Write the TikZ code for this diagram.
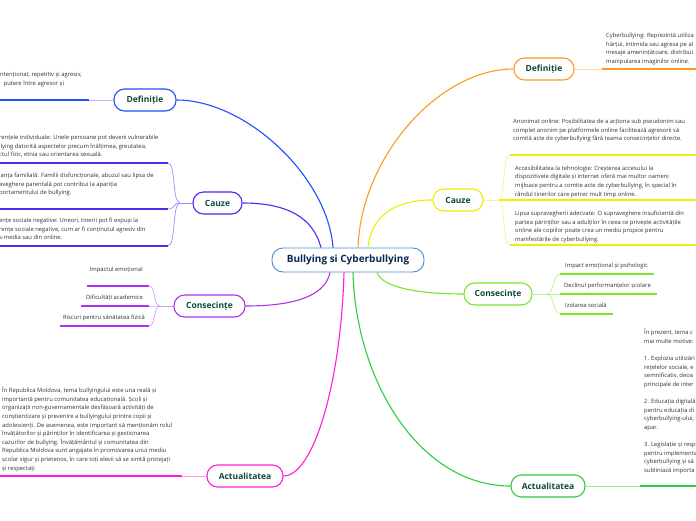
\documentclass[tikz,border=0pt]{standalone}
\usepackage{fontspec}
\setmainfont{Open Sans}
\definecolor{cblue}{HTML}{1F4FFF}
\definecolor{cblueL}{HTML}{A8BEFF}
\definecolor{cind}{HTML}{4B2BF0}
\definecolor{cindL}{HTML}{9D8CFF}
\definecolor{cvio}{HTML}{AA33F0}
\definecolor{cvioL}{HTML}{D49BFF}
\definecolor{cmag}{HTML}{FF1ED8}
\definecolor{cmagL}{HTML}{FF9BEE}
\definecolor{corg}{HTML}{FF9A1F}
\definecolor{corgL}{HTML}{FFD9A8}
\definecolor{cyel}{HTML}{EEEE00}
\definecolor{cyelL}{HTML}{F4F48A}
\definecolor{clim}{HTML}{77E62A}
\definecolor{climL}{HTML}{B5F58A}
\definecolor{cgrn}{HTML}{2ECC40}
\definecolor{cgrnL}{HTML}{9BE8A5}
\definecolor{ctxt}{HTML}{0D4A38}
\definecolor{cnavy}{HTML}{0B2752}
\definecolor{cctr}{HTML}{4A8BD0}
\definecolor{cbody}{HTML}{333333}
\begin{document}
\begin{tikzpicture}[x=1pt,y=-1pt,
  central/.style={draw=cctr, line width=0.9pt, rounded corners=11pt, fill=white,
    minimum width=152pt, minimum height=24pt, inner sep=0pt,
    font=\fontsize{10}{12}\selectfont\bfseries, text=cnavy},
  branch/.style={line width=1.1pt, rounded corners=10.5pt, fill=white,
    minimum height=22pt, inner sep=0pt,
    font=\fontsize{8.5}{10}\selectfont\bfseries, text=ctxt},
  body/.style={font=\fontsize{5.85}{8.6}\selectfont, text=cbody, align=left,
    inner sep=0pt, anchor=north west},
  lbl/.style={font=\fontsize{5.85}{8.6}\selectfont, text=cbody, inner sep=0pt},
  uline/.style={line width=2.2pt},
  thinc/.style={line width=0.7pt},
  conn/.style={line width=1.1pt}]
\useasboundingbox (0,0) rectangle (696,520);
\clip (0,0) rectangle (696,520);
\fill[white] (0,0) rectangle (696,520);

% central and branch nodes
\node[central] (C) at (348,260) {Bullying si Cyberbullying};
\node[branch, draw=cblue, minimum width=62pt] (defL) at (145,100) {Definiție};
\node[branch, draw=cind, minimum width=49pt] (cauL) at (217.5,203) {Cauze};
\node[branch, draw=cvio, minimum width=71pt] (conL) at (209.5,306) {Consecințe};
\node[branch, draw=cmag, minimum width=76pt] (actL) at (245,476) {Actualitatea};
\node[branch, draw=corg, minimum width=60pt] (defR) at (544,69) {Definiție};
\node[branch, draw=cyel, minimum width=50pt] (cauR) at (458,200) {Cauze};
\node[branch, draw=clim, minimum width=68pt] (conR) at (498,294) {Consecințe};
\node[branch, draw=cgrn, minimum width=74pt] (actR) at (548,486) {Actualitatea};

% main connectors
\draw[conn, cblue] (defL.east) .. controls +(70,0) and +(-5,-70) .. ([xshift=-15pt]C.north);
\draw[conn, cind] (cauL.east) .. controls +(45,0) and +(-8,-30) .. ([xshift=-27pt]C.north);
\draw[conn, cvio] (conL.east) .. controls +(45,0) and +(-5,25) .. ([xshift=-18pt]C.south);
\draw[conn, cmag] (actL.east) .. controls +(30,0) and +(-3,110) .. ([xshift=-4pt]C.south);
\draw[conn, corg] (defR.west) .. controls +(-75,0) and +(3,-90) .. ([xshift=10pt]C.north);
\draw[conn, cyel] (cauR.west) .. controls +(-40,0) and +(3,-30) .. ([xshift=20pt]C.north);
\draw[conn, clim] (conR.west) .. controls +(-45,0) and +(5,15) .. ([xshift=29pt]C.south);
\draw[conn, cgrn] (actR.west) .. controls +(-90,0) and +(3,110) .. ([xshift=5pt]C.south);

% ---- left Definitie
\coordinate (uDL0) at (0,100);
\coordinate (uDL1) at (89,100);
\draw[thinc, cblueL] (defL.west) -- (uDL1);
\draw[uline, cblue] (uDL0) -- (uDL1);
\node[body] (tDL) at (0,70.5) {\strut ntenționat, repetitiv și agresiv,\\\hspace*{3.5pt}putere între agresor și};

% ---- left Cauze
\coordinate (jCL) at (180,203);
\draw[thinc, cindL] (cauL.west) -- (jCL);
\foreach \i/\yy in {1/163,2/209,3/246}{
  \coordinate (uCL\i a) at (0,\yy);
  \coordinate (uCL\i b) at (168,\yy);
  \draw[thinc, cindL] (jCL) .. controls +(-8,0) and +(8,0) .. (uCL\i b);
  \draw[uline, cind] (uCL\i a) -- (uCL\i b);
}
\node[body] (tCL1) at (-1,133.5) {\strut rențele individuale: Unele persoane pot deveni vulnerabile\\llying datorită aspectelor precum înălțimea, greutatea,\\ctul fizic, etnia sau orientarea sexuală.};
\node[body] (tCL2) at (-1,171.5) {\strut ianța familială: Familii disfuncționale, abuzul sau lipsa de\\aveghere parentală pot contribui la apariția\\portamentului de bullying.};
\node[body] (tCL3) at (-1,216.5) {\strut ențe sociale negative: Uneori, tinerii pot fi expuși la\\rențe sociale negative, cum ar fi conținutul agresiv din\\s-media sau din online.};

% ---- left Consecinte
\coordinate (jOL) at (160,306);
\draw[thinc, cvioL] (conL.west) -- (jOL);
\foreach \i/\xx/\yy in {1/87/286,2/81/306,3/60/326}{
  \coordinate (uOL\i a) at (\xx,\yy);
  \coordinate (uOL\i b) at (149,\yy);
  \draw[thinc, cvioL] (jOL) .. controls +(-7,0) and +(7,0) .. (uOL\i b);
  \draw[uline, cvio] (uOL\i a) -- (uOL\i b);
}
\node[lbl, anchor=base east] (tOL1) at (143,271.5) {Impactul emoțional};
\node[lbl, anchor=base east] (tOL2) at (143,299.5) {Dificultăți academice};
\node[lbl, anchor=base east] (tOL3) at (145,319.5) {Riscuri pentru sănătatea fizică};

% ---- left Actualitatea
\coordinate (uAL0) at (0,476);
\coordinate (uAL1) at (182,476);
\draw[thinc, cmagL] (actL.west) -- (uAL1);
\draw[uline, cmag] (uAL0) -- (uAL1);
\node[body] (tAL) at (2,386.5) {\strut În Republica Moldova, tema bullyingului este una reală și\\importantă pentru comunitatea educațională. Școli și\\organizații non-guvernamentale desfășoară activități de\\conștientizare și prevenire a bullyingului printre copii și\\adolescenți. De asemenea, este important să menționăm rolul\\învățătorilor și părinților în identificarea și gestionarea\\cazurilor de bullying. Învățământul și comunitatea din\\Republica Moldova sunt angajate în promovarea unui mediu\\școlar sigur și prietenos, în care toți elevii să se simtă protejați\\și respectați};

% ---- right Definitie
\coordinate (uDR0) at (602,69);
\coordinate (uDR1) at (696,69);
\draw[thinc, corgL] (defR.east) -- (uDR0);
\draw[uline, corg] (uDR0) -- (uDR1);
\node[body] (tDR) at (606,31.5) {\strut Cyberbullying: Reprezintă utiliza\\hărțui, intimida sau agresa pe al\\mesaje amenințătoare, distribui\\manipularea imaginilor online.};

% ---- right Cauze
\coordinate (jCR) at (498,200);
\draw[thinc, cyelL] (cauR.east) -- (jCR);
\foreach \i/\xx/\yy in {1/510/155,2/500/200,3/510/245}{
  \coordinate (uCR\i a) at (\xx,\yy);
  \coordinate (uCR\i b) at (696,\yy);
  \draw[thinc, cyelL] (jCR) .. controls +(8,0) and +(-8,0) .. (uCR\i a);
  \draw[uline, cyel] (uCR\i a) -- (uCR\i b);
}
\node[body] (tCR1) at (513,117.5) {\strut Anonimat online: Posibilitatea de a acționa sub pseudonim sau\\complet anonim pe platformele online facilitează agresorii să\\comită acte de cyberbullying fără teama consecințelor directe.};
\node[body] (tCR2) at (515,164) {\strut Accesibilitatea la tehnologie: Creșterea accesului la\\dispozitivele digitale și internet oferă mai multor oameni\\mijloace pentru a comite acte de cyberbullying, în special în\\rândul tinerilor care petrec mult timp online.};
\node[body] (tCR3) at (515,209.2) {\strut Lipsa supravegherii adecvate: O supraveghere insuficientă din\\partea părinților sau a adulților în ceea ce privește activitățile\\online ale copiilor poate crea un mediu propice pentru\\manifestările de cyberbullying.};

% ---- right Consecinte
\coordinate (jOR) at (547,294);
\draw[thinc, climL] (conR.east) -- (jOR);
\foreach \i/\xx/\yy in {1/654/274,2/657/294,3/613/314}{
  \coordinate (uOR\i a) at (560,\yy);
  \coordinate (uOR\i b) at (\xx,\yy);
  \draw[thinc, climL] (jOR) .. controls +(7,0) and +(-7,0) .. (uOR\i a);
  \draw[uline, clim] (uOR\i a) -- (uOR\i b);
}
\node[lbl, anchor=base west] (tOR1) at (565,267.5) {Impact emoțional și psihologic};
\node[lbl, anchor=base west] (tOR2) at (564,287.5) {Declinul performanțelor școlare};
\node[lbl, anchor=base west] (tOR3) at (565,307.5) {Izolarea socială};

% ---- right Actualitatea
\coordinate (uAR0) at (640,486);
\coordinate (uAR1) at (696,486);
\draw[thinc, cgrnL] (actR.east) -- (uAR0);
\draw[uline, cgrn] (uAR0) -- (uAR1);
\node[body] (tAR) at (644,328.5) {\strut În prezent, tema c\\mai multe motive:\\\mbox{}\\1. Explozia utilizări\\rețelelor sociale, e\\semnificativ, deoa\\principale de inter\\\mbox{}\\2. Educația digitală\\pentru educația di\\cyberbullying-ului,\\apar.\\\mbox{}\\3. Legislație și resp\\pentru implementa\\cyberbullying și să\\subliniază importa};
\end{tikzpicture}
\end{document}
